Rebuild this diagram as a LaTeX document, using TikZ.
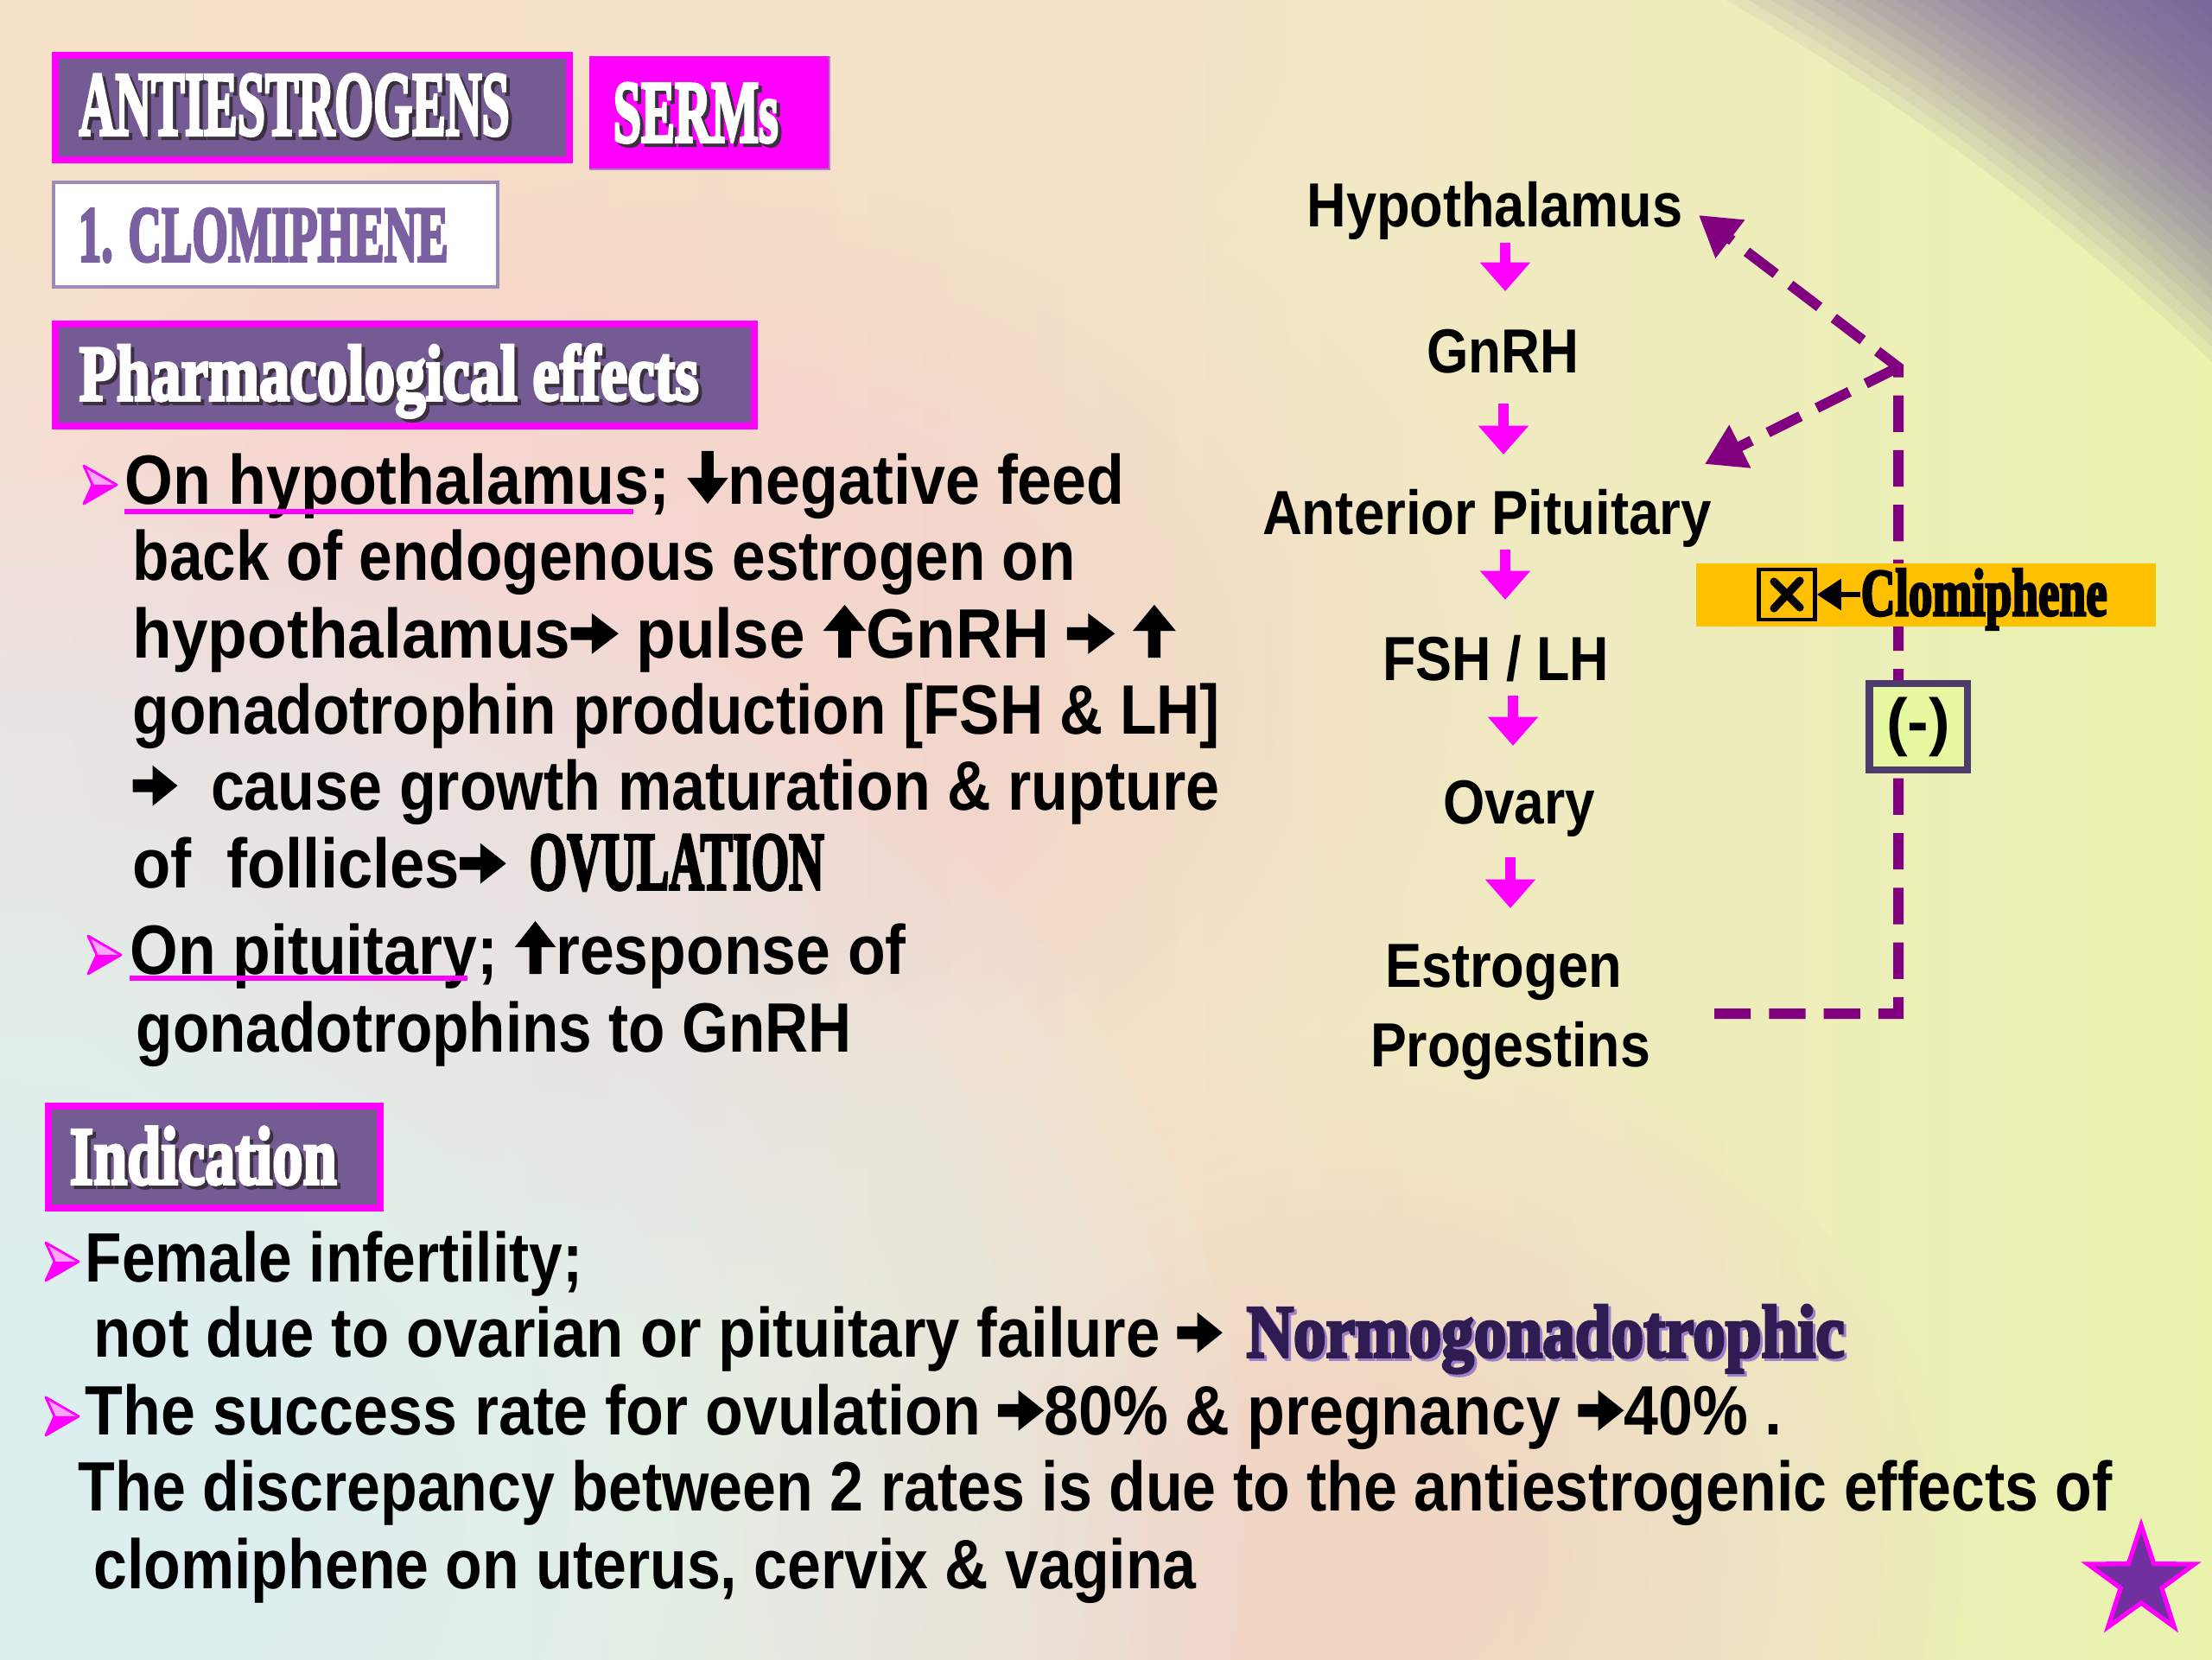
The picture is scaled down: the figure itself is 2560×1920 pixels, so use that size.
\documentclass[tikz,border=0pt]{standalone}
\usepackage{fontspec}
\setmainfont{Liberation Sans}
\newfontfamily\headfont{Liberation Serif}[FakeBold=4]
\usepackage{graphicx}
\usetikzlibrary{arrows.meta}
\definecolor{magC}{HTML}{FF00FF}
\definecolor{hpurple}{HTML}{745B93}
\definecolor{clompurple}{HTML}{7C61A2}
\definecolor{clomborder}{HTML}{9C8AB8}
\definecolor{fbpurple}{HTML}{800080}
\definecolor{orangeC}{HTML}{FFC000}
\definecolor{minusfill}{HTML}{E6F8A0}
\definecolor{minusborder}{HTML}{4E3B6E}
\definecolor{starpurple}{HTML}{7030A0}
\definecolor{normo}{HTML}{2E1C52}
\definecolor{normoshadow}{HTML}{9C80C8}
\definecolor{hshadow}{HTML}{3A3040}
\definecolor{bgA}{HTML}{F3E4DC}
\definecolor{bgB}{HTML}{F6E0D4}
\definecolor{bgC}{HTML}{F0E9C2}
\definecolor{bgD}{HTML}{E9F3AE}
\definecolor{bgE}{HTML}{E4F7A0}
\definecolor{bgpink}{HTML}{F9D6D6}
\definecolor{bgcyan}{HTML}{DCFCFC}
\definecolor{bgpeach}{HTML}{F6E2C8}
\definecolor{bgcorner}{HTML}{6E569C}
\pgfdeclarehorizontalshading{bgbase}{100bp}{color(0bp)=(bgA); color(35bp)=(bgB); color(58bp)=(bgC); color(75bp)=(bgD); color(100bp)=(bgE)}
\newlength\pxu
\setlength\pxu{0.01cm}
\newcommand\fitw[2]{\resizebox{#1\pxu}{\height}{#2}}
\newcommand\rarr{\tikz[x=1pt,y=1pt,baseline=0pt]\fill[black] (0,5.8) -- (7.5,5.8) -- (7.5,1.2) -- (17,7.9) -- (7.5,14.6) -- (7.5,10) -- (0,10) -- cycle;}
\newcommand\uarr{\tikz[x=1pt,y=1pt,baseline=0pt]\fill[black] (5.4,0) -- (9.9,0) -- (9.9,8.8) -- (15.3,8.8) -- (7.65,17.4) -- (0,8.8) -- (5.4,8.8) -- cycle;}
\newcommand\darr{\tikz[x=1pt,y=1pt,baseline=0pt]\fill[black] (5.4,17.4) -- (9.9,17.4) -- (9.9,8.6) -- (15.3,8.6) -- (7.65,0) -- (0,8.6) -- (5.4,8.6) -- cycle;}
\tikzset{
  htxt/.style={inner sep=0pt, anchor=base west, font=\headfont\bfseries\fontsize{#1}{#1}\selectfont},
  btxt/.style={inner sep=0pt, anchor=base west, text=black, font=\bfseries\fontsize{23}{23}\selectfont},
  ftxt/.style={inner sep=0pt, anchor=base, text=black, font=\bfseries\fontsize{20.5}{20.5}\selectfont},
  flowarr/.style={draw=magC, line width=3.4pt, -{Triangle[width=16pt,length=9.5pt]}},
  fbline/.style={draw=fbpurple, line width=3.4pt, dash pattern=on 12pt off 6pt, -{Triangle[width=15pt,length=13pt]}},
  bulletpic/.pic={
    \fill[magC!35] (0,0) -- (-10,-22) -- (28,0) -- cycle;
    \fill[magC] (0,0) -- (-10,22) -- (28,0) -- cycle;
    \draw[magC, line width=0.8pt, line join=round] (-10,-22) -- (28,0) -- (-10,22) -- (0,0) -- cycle;
  }
}
\begin{document}
\begin{tikzpicture}[x=0.01cm,y=-0.01cm]
\useasboundingbox (0,0) rectangle (2560,1920);
% background
\begin{scope}
\clip (0,0) rectangle (2560,1920);
\shade[shading=bgbase] (0,0) rectangle (2560,1920);
\foreach \k in {1,...,24}{\fill[bgpink, opacity=0.05] (800,800) ellipse ({40*\k} and {30*\k});}
\foreach \k in {1,...,24}{\fill[bgpink, opacity=0.05] (1550,1800) ellipse ({30*\k} and {25*\k});}
\foreach \k in {1,...,24}{\fill[bgcyan, opacity=0.07] (0,1750) ellipse ({60*\k} and {50*\k});}
\foreach \k in {1,...,24}{\fill[bgpeach, opacity=0.05] (350,0) ellipse ({50*\k} and {26*\k});}
\foreach \k in {0,...,24}{\fill[bgcorner, opacity=0.075, even odd rule] (500,2600) circle ({3000+13*\k}) (-100,-700) rectangle (2700,2700);}
\end{scope}

% heading boxes
\fill[magC] (60,60) rectangle (663,189);
\fill[hpurple] (68,68) rectangle (655,181);
\fill[magC] (682,65) rectangle (960,196);
\draw[hpurple!70, line width=0.8pt] (682,196) -- (960,196) -- (960,65);
\fill[white] (62,211) rectangle (576,332);
\draw[clomborder, line width=1.2pt] (62,211) rectangle (576,332);
\fill[magC] (60,371) rectangle (877,497);
\fill[hpurple] (68,379) rectangle (869,489);
\fill[magC] (52,1276) rectangle (444,1402);
\fill[hpurple] (60,1284) rectangle (436,1394);

% heading texts
\node[htxt=30, text=hshadow] (antis) at (95,160) {\fitw{498}{ANTIESTROGENS}};
\node[htxt=30, text=white] (anti) at (91,156) {\fitw{498}{ANTIESTROGENS}};
\node[htxt=29, text=hshadow] (sermss) at (713,168) {\fitw{191}{SERMs}};
\node[htxt=29, text=white] (serms) at (709,164) {\fitw{191}{SERMs}};
\node[htxt=26, text=clompurple] (clom) at (90,302) {\fitw{428}{1. CLOMIPHENE}};
\node[htxt=26, text=hshadow] (pharms) at (95,467) {\fitw{717}{Pharmacological effects}};
\node[htxt=26, text=white] (pharm) at (91,463) {\fitw{717}{Pharmacological effects}};
\node[htxt=27, text=hshadow] (indics) at (84,1374) {\fitw{309}{Indication}};
\node[htxt=27, text=white] (indic) at (80,1370) {\fitw{309}{Indication}};

% bullets
\pic at (107,561) {bulletpic};
\pic at (112,1105) {bulletpic};
\pic at (63,1460) {bulletpic};
\pic at (63,1639) {bulletpic};

% pharmacological text
\node[btxt] (l1) at (144,583) {\fitw{1157}{On hypothalamus; \darr negative feed}};
\draw[magC, line width=1.7pt] (144,592) -- (733,592);
\node[btxt] (l2) at (153,671) {\fitw{1091}{back of endogenous estrogen on}};
\node[btxt] (l3) at (153,761) {\fitw{1207}{hypothalamus\rarr\ pulse \uarr GnRH \rarr\ \uarr}};
\node[btxt] (l4) at (153,849) {\fitw{1258}{gonadotrophin production [FSH \& LH]}};
\node[btxt] (l5) at (153,937) {\fitw{1258}{\rarr\hspace{0.55em}cause growth maturation \& rupture}};
\node[btxt] (l6) at (153,1027) {\fitw{432}{of\ \ follicles\rarr}};
\node[htxt=27, text=black] (ovul) at (612,1029) {\fitw{341}{OVULATION}};
\node[btxt] (l7) at (150,1127) {\fitw{898}{On pituitary; \uarr response of}};
\draw[magC, line width=1.7pt] (150,1132) -- (541,1132);
\node[btxt] (l8) at (157,1217) {\fitw{828}{gonadotrophins to GnRH}};

% indication text
\node[btxt] (l9) at (98,1483) {\fitw{576}{Female infertility;}};
\node[btxt] (l10) at (108,1570) {\fitw{1306}{not due to ovarian or pituitary failure \rarr}};
\node[htxt=24.5, text=normoshadow] (normos) at (1445,1573) {\fitw{692}{Normogonadotrophic}};
\node[htxt=24.5, text=normo] (normo) at (1442,1570) {\fitw{692}{Normogonadotrophic}};
\node[btxt] (l11) at (98,1660) {\fitw{1964}{The success rate for ovulation \rarr 80\% \& pregnancy \rarr 40\% .}};
\node[btxt] (l12) at (90,1748) {\fitw{2354}{The discrepancy between 2 rates is due to the antiestrogenic effects of}};
\node[btxt] (l13) at (108,1838) {\fitw{1276}{clomiphene on uterus, cervix \& vagina}};

% flow chart
\node[ftxt] (hypo) at (1730,262) {\fitw{435}{Hypothalamus}};
\node[ftxt] (gnrh) at (1739,431) {\fitw{176}{GnRH}};
\node[ftxt] (antpit) at (1721,618) {\fitw{520}{Anterior Pituitary}};
\node[ftxt] (fshlh) at (1731,787) {\fitw{262}{FSH / LH}};
\node[ftxt] (ovary) at (1758,953) {\fitw{176}{Ovary}};
\node[ftxt] (estro) at (1740,1142) {\fitw{274}{Estrogen}};
\node[ftxt] (progest) at (1748,1234) {\fitw{324}{Progestins}};

\coordinate (a1s) at (1742,281); \coordinate (a1e) at (1742,337);
\coordinate (a2s) at (1740,467); \coordinate (a2e) at (1740,526);
\coordinate (a3s) at (1742,636); \coordinate (a3e) at (1742,694);
\coordinate (a4s) at (1751,805); \coordinate (a4e) at (1751,863);
\coordinate (a5s) at (1748,992); \coordinate (a5e) at (1748,1051);
\draw[flowarr] (a1s) -- (a1e);
\draw[flowarr] (a2s) -- (a2e);
\draw[flowarr] (a3s) -- (a3e);
\draw[flowarr] (a4s) -- (a4e);
\draw[flowarr] (a5s) -- (a5e);

% feedback dashed lines
\coordinate (fbstart) at (1984,1173);
\coordinate (fbc1) at (2197,1173);
\coordinate (fbc2) at (2197,425);
\coordinate (fbtip1) at (1966,249);
\coordinate (fbtip2) at (1973,537);
\draw[fbline] (fbstart) -- (fbc1) -- (fbc2) -- (fbtip1);
\draw[fbline] (fbc2) -- (fbtip2);

% clomiphene label
\fill[orangeC] (1963,652) rectangle (2495,725);
\node[draw=black, line width=1.3pt, minimum width=0.65cm, minimum height=0.58cm, inner sep=0pt] (xbox) at (2068,688) {};
\draw[black, line width=2.6pt, line cap=round] ([shift={(-15,-15)}]xbox.center) -- ([shift={(15,15)}]xbox.center);
\draw[black, line width=2.6pt, line cap=round] ([shift={(15,-16)}]xbox.center) -- ([shift={(-15,16)}]xbox.center);
\node[htxt=22, text=black] (clomlab) at (2153,712) {\fitw{285}{Clomiphene}};
\draw[black, line width=1.8pt, -{Triangle[width=10pt,length=8pt]}] (xbox.east -| clomlab.west) -- (xbox.east);

% (-) box
\node[draw=minusborder, fill=minusfill, line width=2.3pt, minimum width=1.13cm, minimum height=1.0cm, inner sep=0pt, font=\bfseries\fontsize{21}{21}\selectfont] (minus) at (2220,841) {(-)};

% star
\filldraw[fill=starpurple, draw=magC, line width=1.5pt, line join=miter]
  (2478,1765) -- (2492.7,1809.8) -- (2539.8,1809.9) -- (2501.8,1837.7) -- (2516.2,1882.6)
  -- (2478,1855) -- (2439.8,1882.6) -- (2454.2,1837.7) -- (2416.2,1809.9) -- (2463.3,1809.8) -- cycle;
\end{tikzpicture}
\end{document}
